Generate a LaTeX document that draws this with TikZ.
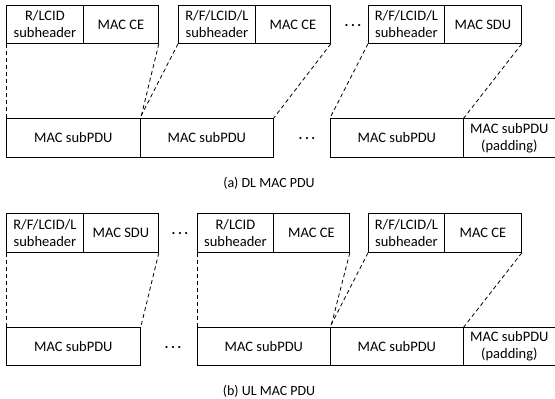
\documentclass[tikz,border=0pt]{standalone}
\usepackage{fontspec}
\setmainfont{Carlito}
\begin{document}
\begin{tikzpicture}[x=1pt,y=-1pt,
  box/.style={draw, line width=0.8pt, inner sep=0pt, anchor=north west, align=center,
    font=\fontsize{14.5}{17}\selectfont},
  conn/.style={dashed, dash pattern=on 4pt off 3pt, line width=0.8pt},
  dots/.style={font=\fontsize{14.5}{17}\selectfont, inner sep=0pt, anchor=base},
  captxt/.style={font=\fontsize{14}{16}\selectfont, inner sep=0pt}]
\useasboundingbox (0,0) rectangle (555,399);
\newcommand{\mydots}{\textbf{.}\kern2.5pt\textbf{.}\kern2.5pt\textbf{.}}
% ---------- (a) ----------
\node[box, minimum width=77pt, minimum height=38pt] (a1h) at (6,5) {R/LCID\\subheader};
\node[box, minimum width=75pt, minimum height=38pt] (a1c) at (83,5) {MAC CE};
\node[box, minimum width=77pt, minimum height=38pt] (a2h) at (178,5) {R/F/LCID/L\\subheader};
\node[box, minimum width=75pt, minimum height=38pt] (a2c) at (255,5) {MAC CE};
\node[dots] (ad1) at (353,26) {\mydots};
\node[box, minimum width=76pt, minimum height=38pt] (a3h) at (368,5) {R/F/LCID/L\\subheader};
\node[box, minimum width=77pt, minimum height=38pt] (a3c) at (444,5) {MAC SDU};
\node[box, minimum width=134pt, minimum height=39pt] (ap1) at (6,118) {MAC subPDU};
\node[box, minimum width=133pt, minimum height=39pt] (ap2) at (140,118) {MAC subPDU};
\node[dots] (ad2) at (307,139) {\mydots};
\node[box, minimum width=133pt, minimum height=39pt] (ap3) at (330,118) {MAC subPDU};
\node[box, minimum width=92pt, minimum height=39pt] (ap4) at (463,118) {MAC subPDU\\(padding)};
\draw[conn] (a1h.south west) -- (ap1.north west);
\draw[conn] (a1c.south east) -- (ap1.north east);
\draw[conn] (a2h.south west) -- (ap2.north west);
\draw[conn] (a2c.south east) -- (ap2.north east);
\draw[conn] (a3h.south west) -- (ap3.north west);
\draw[conn] (a3c.south east) -- (ap3.north east);
\node[captxt] (capa) at (269,183) {(a) DL MAC PDU};
% ---------- (b) ----------
\node[box, minimum width=77pt, minimum height=39pt] (b1h) at (6,213) {R/F/LCID/L\\subheader};
\node[box, minimum width=75pt, minimum height=39pt] (b1c) at (83,213) {MAC SDU};
\node[dots] (bd1) at (180,234) {\mydots};
\node[box, minimum width=76pt, minimum height=39pt] (b2h) at (197,213) {R/LCID\\subheader};
\node[box, minimum width=76pt, minimum height=39pt] (b2c) at (273,213) {MAC CE};
\node[box, minimum width=76pt, minimum height=39pt] (b3h) at (368,213) {R/F/LCID/L\\subheader};
\node[box, minimum width=77pt, minimum height=39pt] (b3c) at (444,213) {MAC CE};
\node[box, minimum width=134pt, minimum height=38pt] (bp1) at (6,327) {MAC subPDU};
\node[dots] (bd2) at (173,348) {\mydots};
\node[box, minimum width=133pt, minimum height=38pt] (bp2) at (197,327) {MAC subPDU};
\node[box, minimum width=133pt, minimum height=38pt] (bp3) at (330,327) {MAC subPDU};
\node[box, minimum width=92pt, minimum height=38pt] (bp4) at (463,327) {MAC subPDU\\(padding)};
\draw[conn] (b1h.south west) -- (bp1.north west);
\draw[conn] (b1c.south east) -- (bp1.north east);
\draw[conn] (b2h.south west) -- (bp2.north west);
\draw[conn] (b2c.south east) -- (bp2.north east);
\draw[conn] (b3h.south west) -- (bp3.north west);
\draw[conn] (b3c.south east) -- (bp3.north east);
\node[captxt] (capb) at (269,391) {(b) UL MAC PDU};
\end{tikzpicture}
\end{document}
